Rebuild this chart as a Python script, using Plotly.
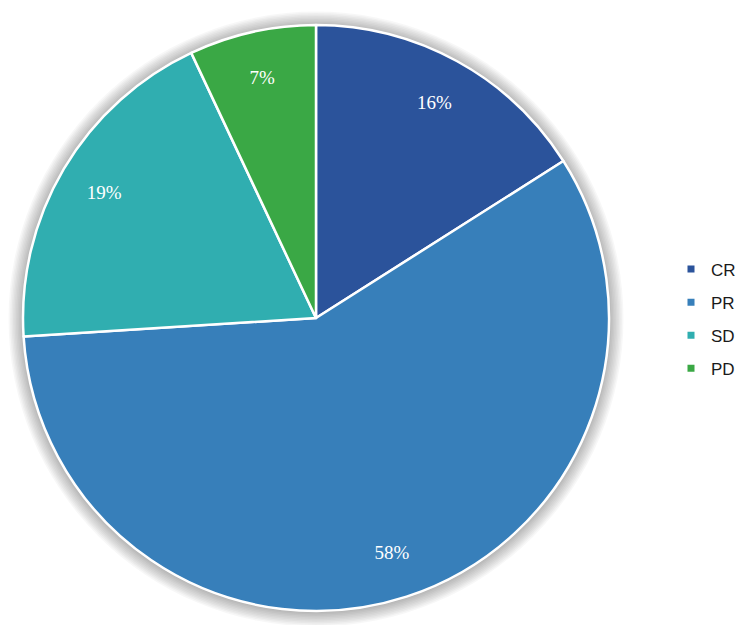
import plotly.graph_objects as go

# response categories and their share (%)
categories = ["CR", "PR", "SD", "PD"]
shares = [16, 58, 19, 7]
colors = ["#2B539B", "#377FBA", "#30AEB0", "#3AA845"]

# the page body adds an 8px margin, so the figure is drawn a bit smaller
W, H = 728, 617
cx, cy, r = 308, 310, 293  # pie centre / radius in figure pixels
dom = dict(
    x=[(cx - r) / W, (cx + r) / W],
    y=[1 - (cy + r) / H, 1 - (cy - r) / H],
)

fig = go.Figure()
fig.add_trace(
    go.Pie(
        labels=categories,
        values=shares,
        sort=False,
        direction="clockwise",
        rotation=0,
        marker=dict(colors=colors, line=dict(color="white", width=2.5)),
        textinfo="none",
        domain=dom,
        showlegend=False,
    )
)
# transparent ring on top, only used to place the % labels near the rim
fig.add_trace(
    go.Pie(
        labels=categories,
        values=shares,
        sort=False,
        direction="clockwise",
        rotation=0,
        hole=0.68,
        marker=dict(colors=["rgba(0,0,0,0)"] * 4, line=dict(width=0)),
        texttemplate="%{value}%",
        textposition="inside",
        insidetextorientation="horizontal",
        textfont=dict(family="Liberation Serif", size=19, color="white"),
        domain=dom,
        showlegend=False,
        hoverinfo="skip",
    )
)

# legend entries with small square markers
for name, col in zip(categories, colors):
    fig.add_trace(
        go.Scatter(
            x=[None],
            y=[None],
            mode="markers",
            name=name,
            legendgroup=name,
            marker=dict(symbol="square", size=7, color=col),
        )
    )

# soft drop shadow behind the pie
shapes = []
for i in range(10):
    rr = r + 1 + i * 1.5
    oy = 1
    shapes.append(
        dict(
            type="circle",
            xref="paper",
            yref="paper",
            x0=(cx - rr) / W,
            x1=(cx + rr) / W,
            y0=1 - (cy + oy + rr) / H,
            y1=1 - (cy + oy - rr) / H,
            fillcolor="rgba(0,0,0,0.03)",
            line=dict(width=0),
            layer="below",
        )
    )

fig.update_layout(
    width=W,
    height=H,
    margin=dict(l=0, r=0, t=0, b=0, autoexpand=False),
    paper_bgcolor="white",
    plot_bgcolor="white",
    xaxis=dict(visible=False),
    yaxis=dict(visible=False),
    shapes=shapes,
    legend=dict(
        x=663 / W,
        y=1 - 311 / H,
        xanchor="left",
        yanchor="middle",
        font=dict(family="Liberation Sans", size=17, color="#1a1a1a"),
        tracegroupgap=8,
        bgcolor="rgba(0,0,0,0)",
    ),
)

fig.write_html("out.html")
